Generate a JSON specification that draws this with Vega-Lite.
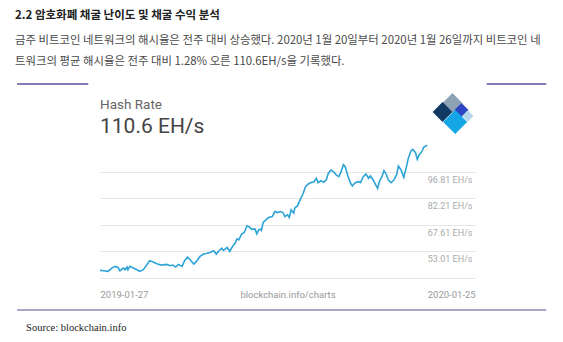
{
  "$schema": "https://vega.github.io/schema/vega-lite/v6.json",
  "width": 375,
  "height": 133,
  "autosize": {"type": "none"},
  "padding": {"left": 100, "top": 145, "right": 88, "bottom": 64},
  "background": "white",
  "config": {"view": {"stroke": null}, "font": "Roboto"},
  "title": {
    "text": "2.2 암호화폐 채굴 난이도 및 채굴 수익 분석",
    "subtitle": ["금주 비트코인 네트워크의 해시율은 전주 대비 상승했다. 2020년 1월 20일부터 2020년 1월 26일까지 비트코인 네", "트워크의 평균 해시율은 전주 대비 1.28% 오른 110.6EH/s을 기록했다."],
    "anchor": "start",
    "frame": "group",
    "dx": -85,
    "offset": 16,
    "font": "Noto Sans CJK KR",
    "fontSize": 11.5,
    "fontWeight": "bold",
    "color": "#222222",
    "subtitleFont": "Noto Sans CJK KR",
    "subtitleFontSize": 11.4,
    "subtitleFontWeight": "normal",
    "subtitleColor": "#4a4a4a",
    "lineHeight": 14,
    "subtitleLineHeight": 21,
    "subtitlePadding": 13
  },
  "datasets": {
    "hashrate": [
      {"date": "2019-01-27", "value": 42.59},
      {"date": "2019-01-31", "value": 42.41},
      {"date": "2019-02-05", "value": 42.04},
      {"date": "2019-02-09", "value": 43.87},
      {"date": "2019-02-13", "value": 44.78},
      {"date": "2019-02-16", "value": 44.23},
      {"date": "2019-02-18", "value": 42.41},
      {"date": "2019-02-22", "value": 43.87},
      {"date": "2019-02-24", "value": 42.96},
      {"date": "2019-02-26", "value": 44.42},
      {"date": "2019-02-27", "value": 42.96},
      {"date": "2019-03-01", "value": 44.78},
      {"date": "2019-03-05", "value": 43.87},
      {"date": "2019-03-09", "value": 42.96},
      {"date": "2019-03-12", "value": 42.04},
      {"date": "2019-03-16", "value": 42.96},
      {"date": "2019-03-20", "value": 45.69},
      {"date": "2019-03-23", "value": 47.88},
      {"date": "2019-03-27", "value": 47.15},
      {"date": "2019-03-31", "value": 46.24},
      {"date": "2019-04-05", "value": 45.51},
      {"date": "2019-04-11", "value": 45.88},
      {"date": "2019-04-15", "value": 45.15},
      {"date": "2019-04-18", "value": 45.51},
      {"date": "2019-04-21", "value": 44.42},
      {"date": "2019-04-24", "value": 45.88},
      {"date": "2019-04-28", "value": 44.78},
      {"date": "2019-05-01", "value": 48.07},
      {"date": "2019-05-04", "value": 49.89},
      {"date": "2019-05-07", "value": 48.43},
      {"date": "2019-05-11", "value": 46.06},
      {"date": "2019-05-14", "value": 47.52},
      {"date": "2019-05-18", "value": 50.26},
      {"date": "2019-05-22", "value": 51.53},
      {"date": "2019-05-25", "value": 51.90},
      {"date": "2019-05-29", "value": 52.45},
      {"date": "2019-06-02", "value": 53.36},
      {"date": "2019-06-05", "value": 51.53},
      {"date": "2019-06-07", "value": 52.81},
      {"date": "2019-06-11", "value": 54.81},
      {"date": "2019-06-13", "value": 53.54},
      {"date": "2019-06-17", "value": 55.18},
      {"date": "2019-06-20", "value": 52.99},
      {"date": "2019-06-23", "value": 55.73},
      {"date": "2019-06-26", "value": 57.55},
      {"date": "2019-06-28", "value": 59.93},
      {"date": "2019-06-30", "value": 59.38},
      {"date": "2019-07-03", "value": 62.48},
      {"date": "2019-07-06", "value": 63.39},
      {"date": "2019-07-09", "value": 67.04},
      {"date": "2019-07-12", "value": 66.31},
      {"date": "2019-07-14", "value": 65.22},
      {"date": "2019-07-18", "value": 65.22},
      {"date": "2019-07-20", "value": 62.66},
      {"date": "2019-07-22", "value": 64.85},
      {"date": "2019-07-24", "value": 65.22},
      {"date": "2019-07-25", "value": 64.49},
      {"date": "2019-07-27", "value": 68.87},
      {"date": "2019-07-30", "value": 70.33},
      {"date": "2019-08-02", "value": 71.60},
      {"date": "2019-08-06", "value": 72.15},
      {"date": "2019-08-09", "value": 74.89},
      {"date": "2019-08-12", "value": 74.34},
      {"date": "2019-08-15", "value": 74.89},
      {"date": "2019-08-18", "value": 74.34},
      {"date": "2019-08-20", "value": 72.15},
      {"date": "2019-08-23", "value": 73.06},
      {"date": "2019-08-25", "value": 71.60},
      {"date": "2019-08-27", "value": 75.80},
      {"date": "2019-08-30", "value": 73.98},
      {"date": "2019-08-31", "value": 76.71},
      {"date": "2019-09-03", "value": 77.99},
      {"date": "2019-09-06", "value": 81.28},
      {"date": "2019-09-09", "value": 84.38},
      {"date": "2019-09-12", "value": 88.57},
      {"date": "2019-09-15", "value": 90.03},
      {"date": "2019-09-18", "value": 90.76},
      {"date": "2019-09-21", "value": 91.13},
      {"date": "2019-09-24", "value": 93.14},
      {"date": "2019-09-26", "value": 90.76},
      {"date": "2019-09-29", "value": 91.86},
      {"date": "2019-10-02", "value": 90.95},
      {"date": "2019-10-05", "value": 92.22},
      {"date": "2019-10-07", "value": 95.51},
      {"date": "2019-10-10", "value": 97.70},
      {"date": "2019-10-13", "value": 96.79},
      {"date": "2019-10-16", "value": 94.96},
      {"date": "2019-10-19", "value": 94.05},
      {"date": "2019-10-21", "value": 96.24},
      {"date": "2019-10-24", "value": 100.62},
      {"date": "2019-10-26", "value": 99.52},
      {"date": "2019-10-29", "value": 94.41},
      {"date": "2019-11-01", "value": 90.40},
      {"date": "2019-11-03", "value": 88.94},
      {"date": "2019-11-06", "value": 90.76},
      {"date": "2019-11-10", "value": 91.31},
      {"date": "2019-11-12", "value": 90.76},
      {"date": "2019-11-15", "value": 94.05},
      {"date": "2019-11-18", "value": 95.51},
      {"date": "2019-11-21", "value": 93.14},
      {"date": "2019-11-23", "value": 94.41},
      {"date": "2019-11-26", "value": 92.22},
      {"date": "2019-11-28", "value": 90.40},
      {"date": "2019-12-01", "value": 87.66},
      {"date": "2019-12-03", "value": 91.31},
      {"date": "2019-12-06", "value": 94.41},
      {"date": "2019-12-08", "value": 97.33},
      {"date": "2019-12-10", "value": 95.87},
      {"date": "2019-12-13", "value": 92.22},
      {"date": "2019-12-16", "value": 90.76},
      {"date": "2019-12-19", "value": 92.22},
      {"date": "2019-12-22", "value": 94.96},
      {"date": "2019-12-24", "value": 99.89},
      {"date": "2019-12-27", "value": 97.70},
      {"date": "2019-12-30", "value": 93.68},
      {"date": "2020-01-02", "value": 99.52},
      {"date": "2020-01-04", "value": 104.08},
      {"date": "2020-01-07", "value": 108.28},
      {"date": "2020-01-09", "value": 109.01},
      {"date": "2020-01-12", "value": 107.19},
      {"date": "2020-01-14", "value": 103.54},
      {"date": "2020-01-16", "value": 105.91},
      {"date": "2020-01-19", "value": 107.73},
      {"date": "2020-01-21", "value": 110.11},
      {"date": "2020-01-25", "value": 111.38}
    ]
  },
  "layer": [
    {
      "data": {"name": "hashrate"},
      "mark": {"type": "line", "color": "#2ea4d6", "strokeWidth": 1.6, "clip": false},
      "encoding": {
        "x": {
          "field": "date", "type": "temporal",
          "scale": {"type": "utc", "domain": [{"year": 2019, "month": 1, "date": 27, "utc": true}, {"year": 2020, "month": 3, "date": 18, "utc": true}]},
          "axis": {
            "values": [{"year": 2019, "month": 1, "date": 27, "utc": true}, {"year": 2020, "month": 1, "date": 25, "utc": true}],
            "tickCount": 20,
            "labelExpr": "utcFormat(datum.value, '%Y-%m-%d')",
            "labelAlign": "left", "labelFlush": false, "labelOverlap": false, "labelBaseline": "top", "labelPadding": 11,
            "labelFont": "Roboto", "labelFontSize": 9.5, "labelColor": "#999999",
            "domain": false, "ticks": false, "grid": false,
            "title": "blockchain.info/charts", "titleFont": "Roboto", "titleFontSize": 9.5, "titleFontWeight": "normal", "titleColor": "#999999",
            "titleBaseline": "top", "titleY": 11, "titleAnchor": "middle"
          }
        },
        "y": {
          "field": "value", "type": "quantitative",
          "scale": {"domain": [38.41, 111.41], "nice": false, "zero": false},
          "axis": {
            "orient": "right",
            "values": [38.41, 53.01, 67.61, 82.21, 96.81],
            "tickCount": 20,
            "labelExpr": "datum.value < 40 ? '' : format(datum.value, '.2f') + ' EH/s'",
            "labelAlign": "right", "labelBaseline": "top", "labelPadding": -3, "labelOffset": 3.5,
            "labelOverlap": false,
            "labelFont": "Roboto", "labelFontSize": 9, "labelColor": "#aaaaaa",
            "domain": false, "ticks": false, "grid": true, "gridColor": "#e6e6e6", "gridWidth": 1,
            "title": null
          }
        }
      }
    },
    {
      "data": {"values": [{}]},
      "mark": {"type": "text", "text": "Hash Rate", "font": "Roboto", "fontSize": 13.5, "color": "#666666", "align": "left", "baseline": "middle"},
      "encoding": {
        "x": {"datum": {"year": 2019, "month": 1, "date": 27, "utc": true}, "type": "temporal"},
        "y": {"datum": 133.36, "type": "quantitative"}
      }
    },
    {
      "data": {"values": [{}]},
      "mark": {"type": "text", "text": "110.6 EH/s", "font": "Roboto", "fontSize": 21, "color": "#444444", "align": "left", "baseline": "middle"},
      "encoding": {
        "x": {"datum": {"year": 2019, "month": 1, "date": 27, "utc": true}, "type": "temporal"},
        "y": {"datum": 121.29, "type": "quantitative"}
      }
    },
    {
      "data": {"values": [{}]},
      "mark": {"type": "point", "shape": "square", "angle": 45, "filled": true, "opacity": 1, "size": 196, "color": "#8da2b5"},
      "encoding": {
        "x": {"datum": {"year": 2020, "month": 2, "date": 22, "utc": true}, "type": "temporal"},
        "y": {"datum": 134.46, "type": "quantitative"}
      }
    },
    {
      "data": {"values": [{}]},
      "mark": {"type": "point", "shape": "square", "angle": 45, "filled": true, "opacity": 1, "size": 196, "color": "#123963"},
      "encoding": {
        "x": {"datum": {"year": 2020, "month": 2, "date": 11, "utc": true}, "type": "temporal"},
        "y": {"datum": 129.52, "type": "quantitative"}
      }
    },
    {
      "data": {"values": [{}]},
      "mark": {"type": "point", "shape": "square", "angle": 45, "filled": true, "opacity": 1, "size": 100, "color": "#2c45c4"},
      "encoding": {
        "x": {"datum": {"year": 2020, "month": 3, "date": 3, "utc": true}, "type": "temporal"},
        "y": {"datum": 130.62, "type": "quantitative"}
      }
    },
    {
      "data": {"values": [{}]},
      "mark": {"type": "point", "shape": "square", "angle": 45, "filled": true, "opacity": 1, "size": 64, "color": "#b5d6ea"},
      "encoding": {
        "x": {"datum": {"year": 2020, "month": 3, "date": 10, "utc": true}, "type": "temporal"},
        "y": {"datum": 127.33, "type": "quantitative"}
      }
    },
    {
      "data": {"values": [{}]},
      "mark": {"type": "point", "shape": "square", "angle": 45, "filled": true, "opacity": 1, "size": 289, "color": "#14a6e5"},
      "encoding": {
        "x": {"datum": {"year": 2020, "month": 2, "date": 25, "utc": true}, "type": "temporal"},
        "y": {"datum": 124.03, "type": "quantitative"}
      }
    },
    {
      "data": {"values": [{}]},
      "mark": {"type": "rule", "color": "#5a4e9a", "strokeWidth": 1.5},
      "encoding": {
        "x": {"datum": {"year": 2018, "month": 10, "date": 27, "utc": true}, "type": "temporal"},
        "x2": {"datum": {"year": 2019, "month": 1, "date": 14, "utc": true}},
        "y": {"datum": 144.89, "type": "quantitative"}
      }
    },
    {
      "data": {"values": [{}]},
      "mark": {"type": "rule", "color": "#5a4e9a", "strokeWidth": 1.5},
      "encoding": {
        "x": {"datum": {"year": 2020, "month": 3, "date": 31, "utc": true}, "type": "temporal"},
        "x2": {"datum": {"year": 2020, "month": 6, "date": 5, "utc": true}},
        "y": {"datum": 144.89, "type": "quantitative"}
      }
    },
    {
      "data": {"values": [{}]},
      "mark": {"type": "rule", "color": "#8a8ab5", "strokeWidth": 1.5},
      "encoding": {
        "x": {"datum": {"year": 2018, "month": 10, "date": 27, "utc": true}, "type": "temporal"},
        "x2": {"datum": {"year": 2020, "month": 6, "date": 5, "utc": true}},
        "y": {"datum": 20.85, "type": "quantitative"}
      }
    },
    {
      "data": {"values": [{}]},
      "mark": {"type": "text", "text": "Source: blockchain.info", "font": "Liberation Serif", "fontWeight": "normal", "fontSize": 10.5, "color": "#222222", "align": "left", "baseline": "middle"},
      "encoding": {
        "x": {"datum": {"year": 2018, "month": 11, "date": 6, "utc": true}, "type": "temporal"},
        "y": {"datum": 10.97, "type": "quantitative"}
      }
    }
  ]
}
